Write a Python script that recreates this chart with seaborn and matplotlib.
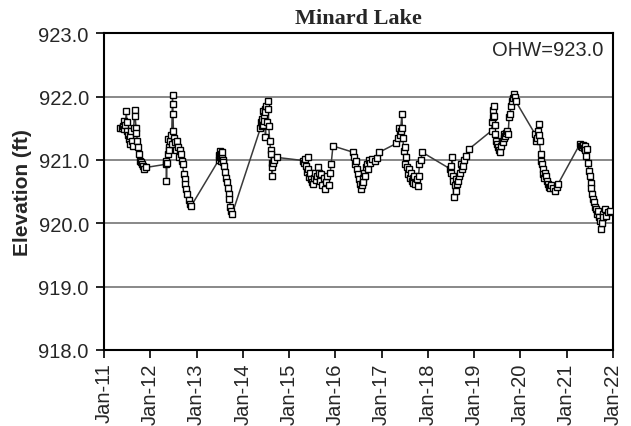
import numpy as np
import pandas as pd
import matplotlib
matplotlib.use("Agg")
import matplotlib.pyplot as plt
import matplotlib.dates as mdates
import seaborn as sns

# decimal year of each reading
years = [
    2011.35, 2011.38, 2011.40, 2011.42, 2011.44, 2011.46, 2011.48, 2011.49, 2011.50, 2011.52,
    2011.53, 2011.55, 2011.56, 2011.58, 2011.60, 2011.62, 2011.64, 2011.66, 2011.67, 2011.69,
    2011.70, 2011.72, 2011.74, 2011.76, 2011.78, 2011.80, 2011.82, 2011.84, 2011.87, 2011.90,
    2012.33, 2012.34, 2012.35, 2012.36, 2012.38, 2012.39, 2012.40, 2012.41, 2012.42, 2012.44,
    2012.46, 2012.48, 2012.485, 2012.49, 2012.50, 2012.52, 2012.54, 2012.56, 2012.58, 2012.60,
    2012.62, 2012.64, 2012.66, 2012.68, 2012.70, 2012.72, 2012.74, 2012.76, 2012.78, 2012.80,
    2012.83, 2012.86, 2012.89,
    2013.48, 2013.49, 2013.50, 2013.51, 2013.52, 2013.53, 2013.54, 2013.55, 2013.56, 2013.57,
    2013.59, 2013.61, 2013.63, 2013.65, 2013.67, 2013.69, 2013.71, 2013.73, 2013.75, 2013.77,
    2014.38, 2014.40, 2014.41, 2014.42, 2014.43, 2014.44, 2014.45, 2014.46, 2014.47, 2014.48,
    2014.49, 2014.50, 2014.52, 2014.54, 2014.55, 2014.56, 2014.58, 2014.60, 2014.61, 2014.62,
    2014.63, 2014.635, 2014.65, 2014.68, 2014.73,
    2015.30, 2015.32, 2015.34, 2015.36, 2015.38, 2015.40, 2015.42, 2015.44, 2015.46, 2015.48,
    2015.50, 2015.52, 2015.54, 2015.56, 2015.58, 2015.60, 2015.62, 2015.64, 2015.66, 2015.68,
    2015.70, 2015.72, 2015.75, 2015.78, 2015.80, 2015.83, 2015.86, 2015.89, 2015.91, 2015.95,
    2016.39, 2016.41, 2016.43, 2016.45, 2016.47, 2016.49, 2016.51, 2016.53, 2016.55, 2016.57,
    2016.59, 2016.61, 2016.63, 2016.65, 2016.67, 2016.69, 2016.71, 2016.73, 2016.76, 2016.80,
    2016.85, 2016.90, 2016.95,
    2017.32, 2017.35, 2017.37, 2017.39, 2017.41, 2017.44, 2017.45, 2017.46, 2017.48, 2017.50,
    2017.51, 2017.53, 2017.55, 2017.57, 2017.59, 2017.61, 2017.63, 2017.65, 2017.67, 2017.69,
    2017.71, 2017.73, 2017.76, 2017.78, 2017.80, 2017.82, 2017.85, 2017.88,
    2018.48, 2018.50, 2018.51, 2018.53, 2018.54, 2018.55, 2018.56, 2018.58, 2018.60, 2018.62,
    2018.64, 2018.66, 2018.68, 2018.70, 2018.72, 2018.74, 2018.76, 2018.78, 2018.82, 2018.89,
    2019.38, 2019.40, 2019.41, 2019.42, 2019.43, 2019.44, 2019.45, 2019.46, 2019.48, 2019.50,
    2019.52, 2019.54, 2019.56, 2019.58, 2019.60, 2019.62, 2019.64, 2019.66, 2019.68, 2019.70,
    2019.72, 2019.74, 2019.76, 2019.78, 2019.80, 2019.82, 2019.84, 2019.87, 2019.88, 2019.90,
    2020.32, 2020.34, 2020.36, 2020.38, 2020.40, 2020.41, 2020.42, 2020.44, 2020.46, 2020.47,
    2020.49, 2020.50, 2020.52, 2020.54, 2020.56, 2020.58, 2020.60, 2020.62, 2020.64, 2020.66,
    2020.70, 2020.75, 2020.80, 2020.82,
    2021.29, 2021.31, 2021.33, 2021.35, 2021.37, 2021.39, 2021.41, 2021.42, 2021.44, 2021.46,
    2021.48, 2021.50, 2021.52, 2021.54, 2021.56, 2021.58, 2021.60, 2021.62, 2021.64, 2021.66,
    2021.68, 2021.70, 2021.72, 2021.74, 2021.76, 2021.78, 2021.80, 2021.83, 2021.86, 2021.90,
    2021.94,
]

elevation = [
    921.50, 921.50, 921.54, 921.48, 921.62, 921.55, 921.77, 921.60, 921.46, 921.40,
    921.33, 921.25, 921.38, 921.45, 921.30, 921.22, 921.50, 921.79, 921.70, 921.51,
    921.42, 921.30, 921.21, 921.10, 920.99, 920.96, 920.93, 920.90, 920.86, 920.88,
    920.93, 920.98, 920.67, 920.95, 921.10, 921.33, 921.20, 921.15, 921.30, 921.40,
    921.25, 922.03, 921.88, 921.72, 921.46, 921.35, 921.28, 921.15, 921.30, 921.20,
    921.05, 921.15, 921.09, 920.98, 920.93, 920.78, 920.70, 920.62, 920.54, 920.46,
    920.36, 920.30, 920.28,
    921.00, 921.08, 921.14, 921.05, 920.98, 921.10, 921.03, 921.12, 921.00, 920.96,
    920.90, 920.81, 920.72, 920.65, 920.56, 920.46, 920.38, 920.26, 920.20, 920.15,
    921.50, 921.60, 921.54, 921.65, 921.77, 921.55, 921.70, 921.62, 921.80, 921.75,
    921.36, 921.85, 921.60, 921.93, 921.80, 921.54, 921.30, 921.15, 921.09, 920.95,
    920.88, 920.75, 920.95, 921.00, 921.04,
    920.99, 920.95, 921.02, 920.90, 920.81, 921.04, 920.85, 920.73, 920.80, 920.70,
    920.65, 920.62, 920.72, 920.80, 920.68, 920.75, 920.88, 920.80, 920.70, 920.67,
    920.78, 920.60, 920.72, 920.54, 920.65, 920.75, 920.60, 920.80, 920.93, 921.22,
    921.12, 921.05, 920.93, 920.98, 920.85, 920.78, 920.70, 920.62, 920.54, 920.60,
    920.72, 920.65, 920.80, 920.75, 920.88, 920.93, 920.85, 921.00, 920.95, 921.01,
    920.98, 921.03, 921.12,
    921.26, 921.35, 921.51, 921.40, 921.45, 921.72, 921.50, 921.35, 921.14, 921.20,
    920.93, 921.05, 920.88, 920.78, 920.85, 920.72, 920.80, 920.66, 920.72, 920.64,
    920.75, 920.62, 920.70, 920.59, 920.75, 920.93, 921.00, 921.12,
    920.86, 920.91, 920.80, 921.04, 920.75, 920.67, 920.41, 920.60, 920.70, 920.51,
    920.62, 920.67, 920.75, 920.80, 920.93, 920.85, 920.90, 921.00, 921.06, 921.17,
    921.46, 921.60, 921.67, 921.78, 921.85, 921.70, 921.55, 921.41, 921.30, 921.25,
    921.20, 921.15, 921.12, 921.22, 921.30, 921.28, 921.35, 921.41, 921.38, 921.43,
    921.46, 921.41, 921.67, 921.72, 921.85, 921.93, 921.98, 922.04, 922.00, 921.93,
    921.41, 921.30, 921.35, 921.45, 921.56, 921.40, 921.30, 921.09, 920.98, 920.93,
    920.85, 920.78, 920.72, 920.80, 920.75, 920.67, 920.62, 920.58, 920.55, 920.60,
    920.55, 920.51, 920.58, 920.62,
    921.25, 921.22, 921.20, 921.24, 921.18, 921.22, 921.15, 921.06, 921.17, 920.95,
    920.83, 920.75, 920.64, 920.55, 920.46, 920.38, 920.33, 920.26, 920.22, 920.15,
    920.20, 920.10, 920.04, 919.91, 920.00, 920.15, 920.10, 920.22, 920.12, 920.18,
    920.20,
]

y_ticks = [918.0, 919.0, 920.0, 921.0, 922.0, 923.0]
x_tick_years = list(range(2011, 2023))
title = "Minard Lake"
ylabel = "Elevation (ft)"
ohw_label = "OHW=923.0"


def to_date(y):
    yr = int(np.floor(y))
    return pd.Timestamp(yr, 1, 1) + pd.Timedelta(days=(y - yr) * 365.25)


df = pd.DataFrame({"date": [to_date(y) for y in years], "elev": elevation})

sns.set_style("white")
plt.rcParams["font.family"] = ["Liberation Sans", "DejaVu Sans"]

fig = plt.figure(figsize=(6.31, 4.27), dpi=100)
ax = fig.add_axes([0.165, 0.178, 0.806, 0.742])

for yt in y_ticks[1:-1]:
    ax.axhline(yt, color="#7f7f7f", lw=1.3, zorder=0)

sns.lineplot(data=df, x="date", y="elev", ax=ax, sort=False, color="#3a3a3a",
             lw=1.1, marker="s", markersize=5.0, markerfacecolor="white",
             markeredgecolor="black", markeredgewidth=1.0, zorder=3)

ax.set_xlim(pd.Timestamp(2011, 1, 1), pd.Timestamp(2022, 1, 1))
ax.set_ylim(918.0, 923.0)
ax.set_yticks(y_ticks)
ax.set_yticklabels([f"{v:.1f}" for v in y_ticks])
ax.set_xticks([pd.Timestamp(y, 1, 1) for y in x_tick_years])
ax.xaxis.set_major_formatter(mdates.DateFormatter("%b-%y"))
ax.tick_params(axis="x", labelrotation=90, labelsize=14.5, length=6, width=1.2,
               direction="out", color="black", bottom=True, pad=3)
ax.tick_params(axis="y", labelsize=14.5, length=6, width=1.2,
               direction="out", color="black", left=True, pad=5)

for s in ax.spines.values():
    s.set_color("black")
    s.set_linewidth(1.5)

ax.set_xlabel("")
ax.set_ylabel(ylabel, fontsize=15, fontweight="bold", labelpad=5)
ax.set_title(title, fontsize=16, fontweight="bold", family=["Liberation Serif", "DejaVu Serif"], pad=7)
ax.text(0.982, 0.978, ohw_label, transform=ax.transAxes, ha="right", va="top", fontsize=14.5)

fig.savefig("out.png", dpi=100)
